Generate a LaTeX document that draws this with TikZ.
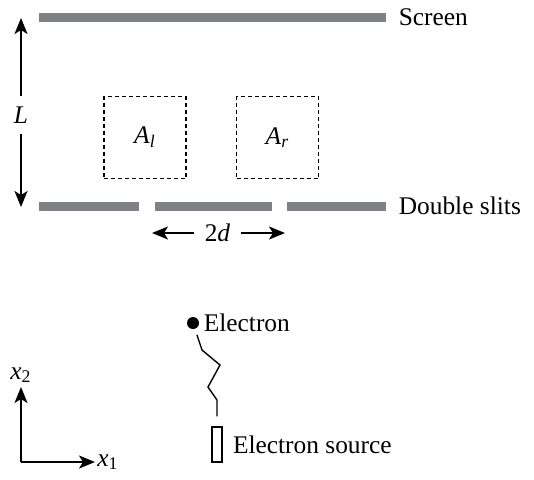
\documentclass[tikz,border=0pt]{standalone}
\usepackage{fontspec}
\setmainfont{Liberation Serif}
\usetikzlibrary{arrows.meta, positioning}
\definecolor{slitgray}{RGB}{128,129,132}
\newcommand{\vr}[1]{\textit{#1}}

\begin{document}
\begin{tikzpicture}[x=0.5pt, y=-0.5pt, font=\fontsize{12.7}{15}\selectfont,
    bar/.style={fill=slitgray, inner sep=0pt, minimum height=4.5pt},
    region/.style={draw, dash pattern=on 2pt off 1.5pt, line width=0.6pt,
        minimum size=41pt, inner sep=0pt},
    arr/.style={-{Stealth[length=8pt, width=6.5pt, inset=2pt]}, line width=0.9pt},
    lbl/.style={inner sep=0pt}]

    \useasboundingbox (0,0) rectangle (534,479);

    % screen and double slits
    \node[bar, minimum width=173.5pt] (screen) at (212.5,17) {};
    \node[bar, minimum width=50pt] (slitl) at (89,206) {};
    \node[bar, minimum width=58.5pt] (slitm) at (213.5,206) {};
    \node[bar, minimum width=49.5pt] (slitr) at (336.5,206) {};
    \node[lbl, right=6pt of screen] {Screen};
    \node[lbl, right=6pt of slitr] {Double slits};

    % regions
    \node[region] (al) at (145,137.5) {\vr{A}\textsubscript{\vr{l}}};
    \node[region] (ar) at (277.5,137.5) {\vr{A}\textsubscript{\vr{r}}};

    % distances
    \node[inner sep=5pt] (len) at (21,115) {\vr{L}};
    \coordinate (lentop) at (21,18);
    \coordinate (lenbot) at (21,207);
    \draw[arr] (len.north) -- (lentop);
    \draw[arr] (len.south) -- (lenbot);

    \node[inner sep=5pt] (sep) at (217.5,233) {2\vr{d}};
    \coordinate (sepl) at (152,233);
    \coordinate (sepr) at (285,233);
    \draw[arr] (sep.west) -- (sepl);
    \draw[arr] (sep.east) -- (sepr);

    % electron and source
    \node[circle, fill, inner sep=0pt, minimum size=6pt] (elec) at (193,323) {};
    \node[lbl, right=2pt of elec] {Electron};
    \node[draw, line width=0.6pt, inner sep=0pt, minimum width=5pt,
        minimum height=17.5pt] (src) at (217,444.5) {};
    \node[lbl, right=5pt of src] {Electron source};
    \draw[line width=0.7pt, shorten <=3pt, shorten >=5pt]
        (elec) -- (202,350) -- (220,365) -- (208,387) -- (217,400) -- (src.north);

    % axes
    \coordinate (origin) at (21,462);
    \coordinate (xend) at (95,462);
    \coordinate (yend) at (21,387);
    \draw[arr] (origin) -- (xend);
    \draw[arr] (origin) -- (yend);
    \node[lbl, right=1pt of xend] {\vr{x}\textsubscript{1}};
    \node[lbl, above=2pt of yend] {\vr{x}\textsubscript{2}};
\end{tikzpicture}
\end{document}
